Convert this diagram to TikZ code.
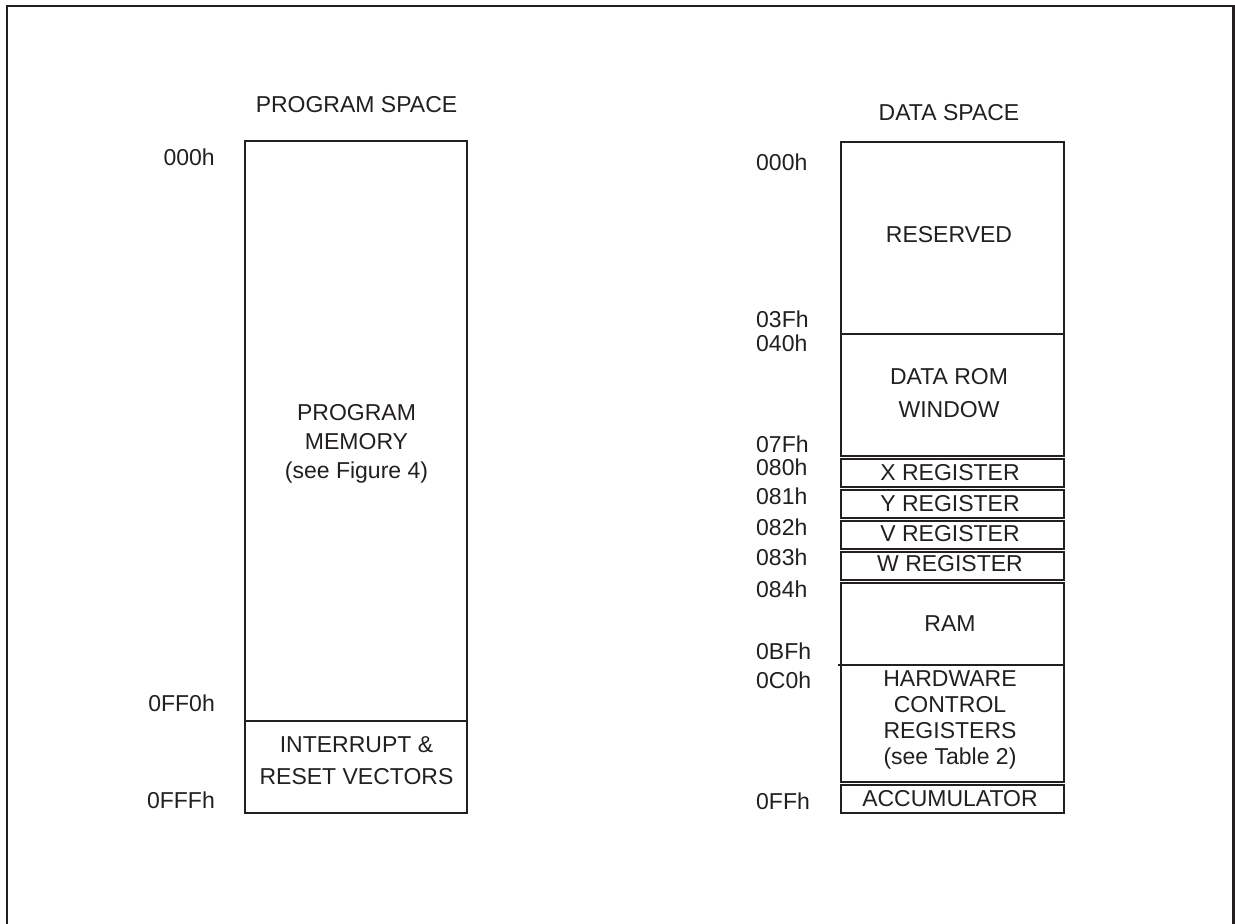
\documentclass[tikz,border=0pt]{standalone}
\usepackage{fontspec}
\setmainfont{Liberation Sans}
\definecolor{ink}{HTML}{231F20}
\tikzset{
  block/.style={draw=ink, line width=2.2pt},
  frame/.style={draw=ink, line width=2.6pt},
  memtext/.style={text=ink, align=center, inner sep=0pt,
    font=\fontsize{23}{29}\selectfont},
  addrl/.style={text=ink, anchor=east, inner sep=0pt,
    font=\fontsize{23}{27}\selectfont},
  addrr/.style={addrl, anchor=west},
}
\begin{document}
\begin{tikzpicture}[x=1pt,y=-1pt]
\useasboundingbox (0,0) rectangle (1235,924);
\draw[frame] (7,924) -- (7,6) -- (1233.5,6) -- (1233.5,924);

% program space
\draw (356.5,105) node[memtext] (progtitle) {PROGRAM SPACE};
\draw[block] (245,141) rectangle (467,721);
\draw[block] (245,721) rectangle (467,813);
\draw (356.5,444) node[memtext] (progmem) {PROGRAM\\MEMORY\\(see Figure 4)};
\draw (356.5,761) node[memtext,
  font=\fontsize{23}{32}\selectfont] (vectors) {INTERRUPT \&\\RESET VECTORS};
\draw (215,157) node[addrl] (p000) {000h};
\draw (215,703) node[addrl] (p0ff0) {0FF0h};
\draw (215,800) node[addrl] (p0fff) {0FFFh};

% data space
\draw (949,112.5) node[memtext] (datatitle) {DATA SPACE};
\draw[block] (841,142) rectangle (1064,334);
\draw[block] (841,334) rectangle (1064,456);
\draw[block] (841,459) rectangle (1064,487);
\draw[block] (841,490) rectangle (1064,518);
\draw[block] (841,521) rectangle (1064,549);
\draw[block] (841,552) rectangle (1064,580);
\draw[block] (841,583) rectangle (1064,665);
\draw[block] (838,665) -- (1062,665);
\draw[block] (841,665) rectangle (1064,782);
\draw[block] (841,785) rectangle (1064,813);

\draw (949,235) node[memtext] (reserved) {RESERVED};
\draw (949,393.5) node[memtext,
  font=\fontsize{23}{33}\selectfont] (datarom) {DATA ROM\\WINDOW};
\draw (950,473) node[memtext] (xreg) {X REGISTER};
\draw (950,504) node[memtext] (yreg) {Y REGISTER};
\draw (950,534) node[memtext] (vreg) {V REGISTER};
\draw (950,564) node[memtext] (wreg) {W REGISTER};
\draw (950,624) node[memtext] (ram) {RAM};
\draw (950,720) node[memtext,
  font=\fontsize{23}{26}\selectfont] (hwctrl) {HARDWARE\\CONTROL\\REGISTERS\\(see Table 2)};
\draw (950,799) node[memtext] (acc) {ACCUMULATOR};

\draw (756,162) node[addrr] (d000) {000h};
\draw (756,319) node[addrr] (d03f) {03Fh};
\draw (756,343) node[addrr] (d040) {040h};
\draw (756,444) node[addrr] (d07f) {07Fh};
\draw (756,467) node[addrr] (d080) {080h};
\draw (756,496) node[addrr] (d081) {081h};
\draw (756,527) node[addrr] (d082) {082h};
\draw (756,557) node[addrr] (d083) {083h};
\draw (756,589) node[addrr] (d084) {084h};
\draw (756,651) node[addrr] (d0bf) {0BFh};
\draw (756,680) node[addrr] (d0c0) {0C0h};
\draw (756,801) node[addrr] (d0ff) {0FFh};
\end{tikzpicture}
\end{document}
